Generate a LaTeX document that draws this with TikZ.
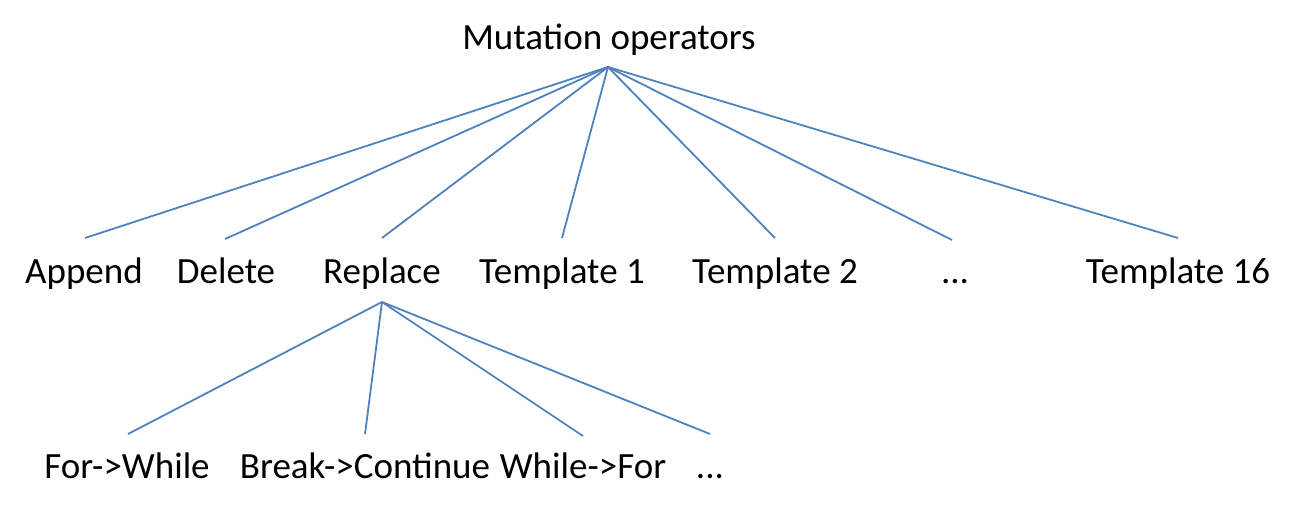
\documentclass[tikz,border=0pt]{standalone}
\usepackage{fontspec}
\setmainfont{Carlito}
\begin{document}
\begin{tikzpicture}[x=1pt,y=-1pt,
  lbl/.style={anchor=base,inner sep=0pt,font=\fontsize{37}{44}\selectfont},
  edge/.style={draw={rgb,255:red,79;green,129;blue,189},line width=1.8pt}]
\useasboundingbox (0,0) rectangle (1295,511);
% labels
\node[lbl] (mut) at (609,50) {Mutation operators};
\node[lbl] (app) at (84,283) {Append};
\node[lbl] (del) at (226,283) {Delete};
\node[lbl] (rep) at (382,283) {Replace};
\node[lbl] (t1) at (562,283) {Template 1};
\node[lbl] (t2) at (775,283) {Template 2};
\node[lbl] (dots1) at (955,283) {...};
\node[lbl] (t16) at (1178,283) {Template 16};
\node[lbl] (fw) at (127,478) {For->While};
\node[lbl] (bc) at (365,478) {Break->Continue};
\node[lbl] (wf) at (583,478) {While->For};
\node[lbl] (dots2) at (710,478) {...};
% connector ends
\coordinate (mutB) at (608,67);
\coordinate (appT) at (85,238);
\coordinate (delT) at (225,239);
\coordinate (repT) at (382,238);
\coordinate (t1T) at (562,238);
\coordinate (t2T) at (775,238);
\coordinate (dots1T) at (952,240);
\coordinate (t16T) at (1178,238);
\coordinate (repB) at (382,302);
\coordinate (fwT) at (128,434);
\coordinate (bcT) at (365,434);
\coordinate (wfT) at (583,436);
\coordinate (dots2T) at (710,434);
\foreach \e in {appT,delT,repT,t1T,t2T,dots1T,t16T}
  \draw[edge] (mutB) -- (\e);
\foreach \e in {fwT,bcT,wfT,dots2T}
  \draw[edge] (repB) -- (\e);
\end{tikzpicture}
\end{document}
